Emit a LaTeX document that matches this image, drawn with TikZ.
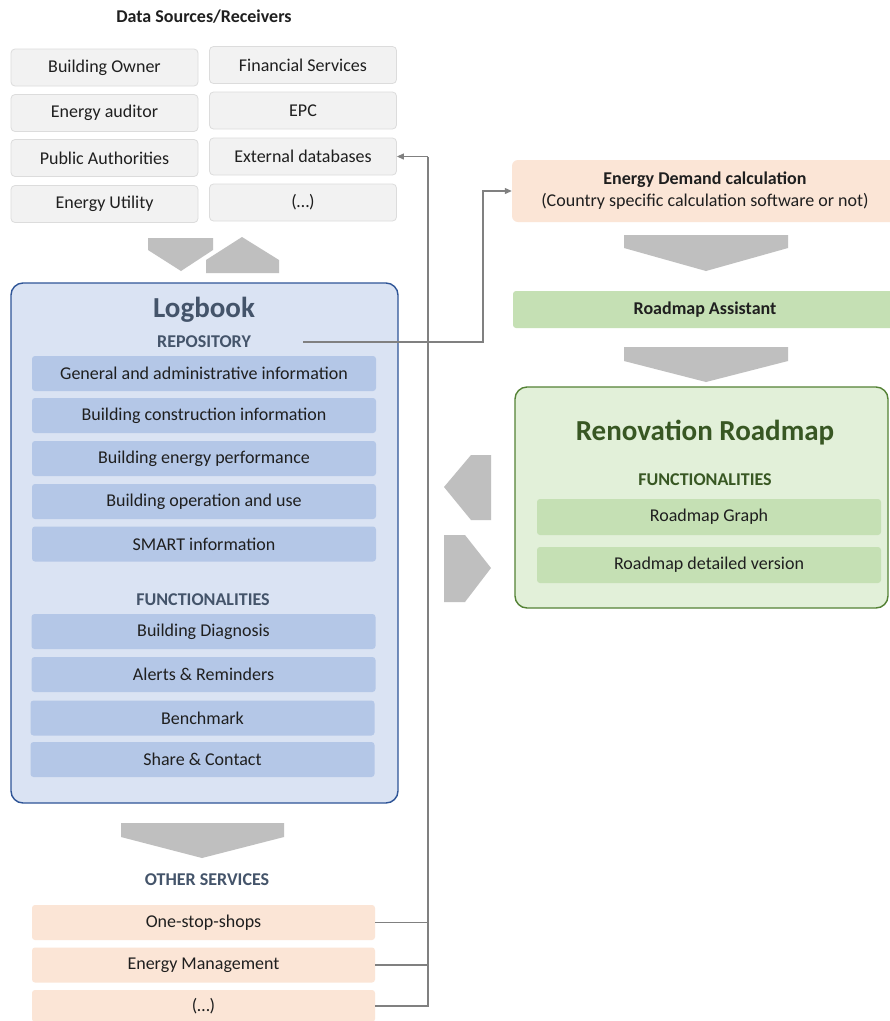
\documentclass[tikz,border=0pt]{standalone}
\usepackage{fontspec}
\setmainfont{Carlito}
\usetikzlibrary{arrows.meta}

\definecolor{txtdark}{HTML}{1F1F1F}
\definecolor{headblue}{HTML}{44546A}
\definecolor{headgreen}{HTML}{385723}
\definecolor{srcfill}{HTML}{F2F2F2}
\definecolor{srcline}{HTML}{DCDCDC}
\definecolor{logfill}{HTML}{DAE3F3}
\definecolor{logline}{HTML}{2F5597}
\definecolor{itemblue}{HTML}{B4C7E7}
\definecolor{svcfill}{HTML}{FBE5D6}
\definecolor{assistfill}{HTML}{C5E0B4}
\definecolor{roadfill}{HTML}{E2F0D9}
\definecolor{roadline}{HTML}{548235}
\definecolor{arrowgrey}{HTML}{BFBFBF}
\definecolor{linkgrey}{HTML}{808080}

\begin{document}
\begin{tikzpicture}[x=1pt,y=-1pt,
		every node/.style={text=txtdark,font=\fontsize{18}{22}\selectfont,inner sep=0pt},
		srcbox/.style={rounded corners=4pt,fill=srcfill,draw=srcline,line width=0.8pt,minimum width=187pt,minimum height=37pt},
		logbox/.style={rounded corners=12pt,fill=logfill,draw=logline,line width=1.4pt,minimum width=387pt,minimum height=520pt},
		itembox/.style={rounded corners=3pt,fill=itemblue,minimum width=344pt,minimum height=35pt},
		svcbox/.style={rounded corners=3pt,fill=svcfill,minimum width=343pt,minimum height=35pt},
		demandbox/.style={rounded corners=6pt,fill=svcfill,minimum width=386pt,minimum height=62pt,align=center},
		assistbox/.style={rounded corners=3pt,fill=assistfill,minimum width=384pt,minimum height=37pt},
		roadbox/.style={rounded corners=12pt,fill=roadfill,draw=roadline,line width=1.4pt,minimum width=373pt,minimum height=221pt},
		roaditem/.style={rounded corners=3pt,fill=assistfill,minimum width=344pt,minimum height=36pt},
		subhead/.style={text=headblue,font=\fontsize{18}{22}\selectfont\bfseries},
		logtitle/.style={text=headblue,font=\fontsize{29}{34}\selectfont\bfseries},
		roadtitle/.style={text=headgreen,font=\fontsize{29}{34}\selectfont\bfseries},
		roadhead/.style={text=headgreen,font=\fontsize{18}{22}\selectfont\bfseries},
		blockarrow/.style={fill=arrowgrey},
		link/.style={draw=linkgrey,line width=1.1pt},
		>={Triangle[length=7pt,width=6pt]}]
		\useasboundingbox (0,0) rectangle (890,1021);
		\fill[white] (0,0) rectangle (890,1021);

		\draw (204,17) node [subhead,text=txtdark] (srctitle) {Data Sources/Receivers};
		\draw (104.5,67.5) node [srcbox] (owner) {Building Owner};
		\draw (104.5,113) node [srcbox] (auditor) {Energy auditor};
		\draw (104.5,158) node [srcbox] (public) {Public Authorities};
		\draw (104.5,204) node [srcbox] (utility) {Energy Utility};
		\draw (303,65) node [srcbox] (finance) {Financial Services};
		\draw (303,110.5) node [srcbox] (epc) {EPC};
		\draw (303,156.5) node [srcbox] (extdb) {External databases};
		\draw (303,202.5) node [srcbox] (srcmore) {(…)};

		\fill[blockarrow] (148,238) -- (213,238) -- (213,250) -- (181,271) -- (148,250) -- cycle;
		\fill[blockarrow] (206,273) -- (206,260) -- (242,237) -- (279,260) -- (279,273) -- cycle;

		\draw (204.5,543) node [logbox] (logbook) {};
		\draw (204,310) node [logtitle] (logname) {Logbook};
		\draw (204,342) node [subhead] (repo) {REPOSITORY};
		\draw (204,373.5) node [itembox] (general) {General and administrative information};
		\draw (204,415.5) node [itembox] (construction) {Building construction information};
		\draw (204,458.5) node [itembox] (performance) {Building energy performance};
		\draw (204,501.5) node [itembox] (operation) {Building operation and use};
		\draw (204,544) node [itembox] (smart) {SMART information};
		\draw (203,600) node [subhead] (logfunc) {FUNCTIONALITIES};
		\draw (203.5,631.5) node [itembox] (diagnosis) {Building Diagnosis};
		\draw (203.5,674.5) node [itembox] (alerts) {Alerts \& Reminders};
		\draw (202.5,718) node [itembox] (benchmark) {Benchmark};
		\draw (202.5,759.5) node [itembox] (share) {Share \& Contact};

		\fill[blockarrow] (121,823) -- (284,823) -- (284,837) -- (202,858) -- (121,837) -- cycle;
		\draw (207,880) node [subhead] (others) {OTHER SERVICES};
		\draw (203.5,922.5) node [svcbox] (oss) {One-stop-shops};
		\draw (203.5,965) node [svcbox] (energymgmt) {Energy Management};
		\draw (203.5,1006) node [svcbox,minimum height=32pt] (svcmore) {(…)};

		\draw (705,191) node [demandbox] (demand) {{\bfseries Energy Demand calculation}\\(Country specific calculation software or not)};
		\fill[blockarrow] (624,235) -- (788,235) -- (788,248) -- (706,271) -- (624,248) -- cycle;
		\draw (705,309.5) node [assistbox] (assistant) {\bfseries Roadmap Assistant};
		\fill[blockarrow] (624,347) -- (788,347) -- (788,361) -- (706,382) -- (624,361) -- cycle;
		\draw (701.5,497.5) node [roadbox] (roadmap) {};
		\draw (705,433) node [roadtitle] (roadname) {Renovation Roadmap};
		\draw (705,480) node [roadhead] (roadfunc) {FUNCTIONALITIES};
		\draw (709,517) node [roaditem] (graph) {Roadmap Graph};
		\draw (709,565) node [roaditem] (detailed) {Roadmap detailed version};

		\fill[blockarrow] (444,487) -- (471,455) -- (491,455) -- (491,520) -- (471,520) -- cycle;
		\fill[blockarrow] (444,535) -- (465,535) -- (491,568) -- (465,602) -- (444,602) -- cycle;

		\coordinate (busTop) at (428,156.5);
		\coordinate (repoOut) at (303,342);
		\coordinate (elbow) at (483,191);
		\draw[link] (svcmore.east) -| (busTop);
		\draw[link] (oss.east) -- (oss.east -| busTop);
		\draw[link] (energymgmt.east) -- (energymgmt.east -| busTop);
		\draw[link,->] (busTop) -- (extdb.east);
		\draw[link,->] (repoOut) -| (elbow) -- (demand.west);
	\end{tikzpicture}
\end{document}
